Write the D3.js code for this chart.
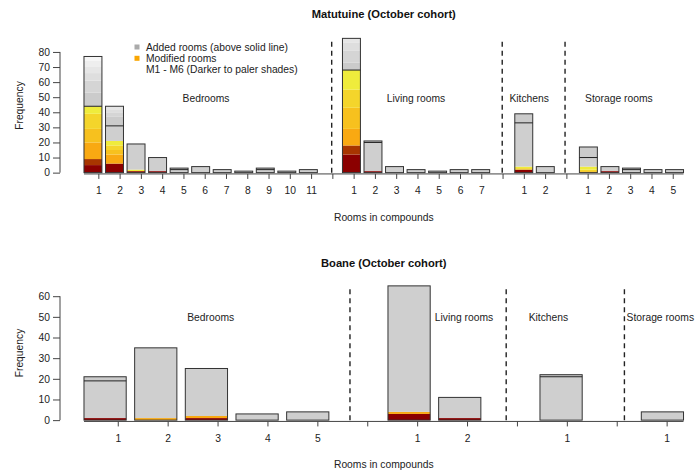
<!DOCTYPE html>
<html>
<head>
<meta charset="utf-8">
<script src="https://cdnjs.cloudflare.com/ajax/libs/d3/7.8.5/d3.min.js"></script>
<style>
  body { margin: 0; background: #fff; }
  svg { display: block; font-family: "Liberation Sans", Arial, sans-serif; }
</style>
</head>
<body>
<svg id="chart" width="697" height="471"></svg>
<script>
// ---- data ----
const roomTypes = ["Bedrooms", "Living rooms", "Kitchens", "Storage rooms"];

// Matutuine (October cohort)
const matRoomLabels = [
  ["1", "2", "3", "4", "5", "6", "7", "8", "9", "10", "11"],
  ["1", "2", "3", "4", "5", "6", "7"],
  ["1", "2"],
  ["1", "2", "3", "4", "5"]
];
// existing rooms per bar (height of the solid line)
const matExisting = [44, 31, 19, 10, 2, 4, 2, 1, 2, 1, 2,
                     68, 20, 4, 2, 1, 2, 2,
                     33, 4,
                     10, 4, 2, 2, 2];
// modified rooms M1..M6 per bar (missing = 0)
const matModified = [[5, 4, 11, 9, 10, 5], [6, 0, 6, 3, 3, 3], [1, 0, 0, 0, 0, 1], [1], [], [], [], [], [], [], [],
                     [12, 6, 11, 14, 12, 13], [1], [], [], [], [], [],
                     [2, 0, 0, 0, 1, 1], [],
                     [0, 0, 0, 1, 1, 2], [1], [], [], []];
// added rooms (above solid line), darker to paler
const matAdded = [[9, 8, 5, 4, 4, 3], [6, 3, 2, 2], [], [], [1], [], [], [], [1], [], [],
                  [5, 8, 5, 3], [1], [], [], [], [], [],
                  [6], [],
                  [7], [], [1], [], []];
const matYTicks = [0, 10, 20, 30, 40, 50, 60, 70, 80];

// Boane (October cohort)
const booRoomLabels = [
  ["1", "2", "3", "4", "5"],
  ["1", "2"],
  ["1"],
  ["1"]
];
const booExisting = [19, 35, 25, 3, 4,
                     65, 11,
                     21,
                     4];
const booModified = [[1], [0, 0, 1], [1, 0, 1], [], [],
                     [3, 0, 1], [1],
                     [],
                     []];
const booAdded = [[2], [], [], [], [],
                  [], [],
                  [1],
                  []];
const booYTicks = [0, 10, 20, 30, 40, 50, 60];

const legendLabels = ["Added rooms (above solid line)", "Modified rooms", "M1 - M6 (Darker to paler shades)"];

// ---- styles ----
const modShades = ["#8b0000", "#a83500", "#f9a912", "#f7c11e", "#f4d52b", "#efec3c"];
const addShades = ["#cbcbcb", "#d5d5d5", "#dedede", "#e6e6e6", "#eeeeee", "#f6f6f6"];
const unmodFill = "#cfcfcf";
const legendColors = ["#aaaaaa", "#f9a602", null];
const fontSize = 10.3;

const svg = d3.select('#chart');

const plotLeft = 60, plotRight = 707.5;

function drawPanel(p) {
  let g = svg.append('g');

  // slot layout: one empty slot between room types
  let bars = [];
  let slot = 0, k = 0;
  p.labels.forEach((grp, gi) => {
    grp.forEach(lab => {
      bars.push({slot: slot, label: lab, mod: p.modified[k], existing: p.existing[k], added: p.added[k]});
      slot++; k++;
    });
    if (gi < p.labels.length - 1) slot++;
  });
  let nSlots = slot;

  bars.forEach(b => {
    let segs = [];
    let base = 0;
    for (let i = 0; i < 6; i++) {
      let v = b.mod[i] || 0;
      if (v > 0) segs.push({lo: base, hi: base + v, fill: modShades[i]});
      base += v;
    }
    if (b.existing > base) segs.push({lo: base, hi: b.existing, fill: unmodFill});
    base = b.existing;
    for (let i = 0; i < 6; i++) {
      let v = b.added[i] || 0;
      if (v > 0) segs.push({lo: base, hi: base + v, fill: addShades[i]});
      base += v;
    }
    b.segs = segs;
    b.total = base;
  });

  // R-style barplot extents (space 0.2, 4% padding)
  let xlo = 0.2, xhi = 1.2 * nSlots;
  let xpad = 0.04 * (xhi - xlo);
  let x = d3.scaleLinear().domain([xlo - xpad, xhi + xpad]).range([plotLeft, plotRight]);
  let ymax = d3.max(bars, b => b.total);
  let y = d3.scaleLinear().domain([-0.04 * ymax, 1.04 * ymax]).range([p.top + p.height, p.top]);
  let xt = d3.scaleLinear().domain([0, nSlots - 1]).range([x(1), x(p.tickEnd)]);

  // separators
  g.selectAll('.sep').data(p.separators).join('line')
    .attr('x1', d => x(d)).attr('x2', d => x(d))
    .attr('y1', y(0)).attr('y2', y(ymax))
    .attr('stroke', '#222').attr('stroke-width', 1.4)
    .attr('stroke-dasharray', '5,4');

  // bars
  let bg = g.selectAll('.bar').data(bars).join('g').attr('class', 'bar');
  bg.selectAll('rect.seg').data(b => b.segs.map(s => Object.assign({slot: b.slot}, s))).join('rect')
    .attr('class', 'seg')
    .attr('x', d => x(0.2 + 1.2 * d.slot))
    .attr('width', d => x(1.2 + 1.2 * d.slot) - x(0.2 + 1.2 * d.slot))
    .attr('y', d => y(d.hi))
    .attr('height', d => y(d.lo) - y(d.hi))
    .attr('fill', d => d.fill);
  bg.append('rect')
    .attr('x', b => x(0.2 + 1.2 * b.slot))
    .attr('width', b => x(1.2 + 1.2 * b.slot) - x(0.2 + 1.2 * b.slot))
    .attr('y', b => y(b.total))
    .attr('height', b => y(0) - y(b.total))
    .attr('fill', 'none')
    .attr('stroke', '#333').attr('stroke-width', 1);
  bg.filter(b => b.total > b.existing).append('line')
    .attr('x1', b => x(0.2 + 1.2 * b.slot))
    .attr('x2', b => x(1.2 + 1.2 * b.slot))
    .attr('y1', b => y(b.existing)).attr('y2', b => y(b.existing))
    .attr('stroke', '#222').attr('stroke-width', 1);

  // y axis
  let yTop = d3.max(p.yTicks);
  let ya = g.append('g')
    .attr('transform', `translate(${plotLeft},0)`)
    .call(d3.axisLeft(y).tickValues(p.yTicks).tickSize(7).tickPadding(3));
  ya.select('.domain').remove();
  ya.append('line').attr('y1', y(0)).attr('y2', y(yTop)).attr('stroke', '#444');
  ya.selectAll('.tick line').attr('stroke', '#444');
  ya.selectAll('text').attr('font-size', fontSize).attr('fill', '#222').attr('font-family', null);

  // x axis
  let labelBySlot = {};
  bars.forEach(b => { labelBySlot[b.slot] = b.label; });
  let axisY = y(0) + 1.3;
  let xa = g.append('g')
    .attr('transform', `translate(0,${axisY})`)
    .call(d3.axisBottom(xt).tickValues(d3.range(nSlots)).tickSize(5).tickPadding(8)
      .tickFormat(s => labelBySlot[s] || ''));
  xa.select('.domain').remove();
  xa.append('line').attr('x1', x(xlo)).attr('x2', x(xhi)).attr('stroke', '#444');
  xa.selectAll('.tick line').attr('stroke', '#444');
  xa.selectAll('text').attr('font-size', fontSize).attr('fill', '#222').attr('font-family', null);

  // room type labels
  g.selectAll('.grp').data(roomTypes).join('text')
    .attr('x', (d, i) => x(p.groupLabelX[i]))
    .attr('y', y(p.groupLabelY))
    .attr('dy', '0.35em')
    .attr('text-anchor', 'middle')
    .attr('font-size', fontSize).attr('fill', '#222')
    .text(d => d);

  // titles
  let cx = (plotLeft + plotRight) / 2;
  g.append('text')
    .attr('x', cx).attr('y', p.titleY).attr('dy', '0.35em')
    .attr('text-anchor', 'middle').attr('font-weight', 'bold')
    .attr('font-size', 11.2).attr('fill', '#111')
    .text(p.title);
  g.append('text')
    .attr('x', cx).attr('y', p.top + p.height + 39).attr('dy', '0.35em')
    .attr('text-anchor', 'middle')
    .attr('font-size', fontSize).attr('fill', '#222')
    .text('Rooms in compounds');
  g.append('text')
    .attr('transform', `translate(19,${p.top + p.height / 2}) rotate(-90)`)
    .attr('dy', '0.35em')
    .attr('text-anchor', 'middle')
    .attr('font-size', fontSize).attr('fill', '#222')
    .text('Frequency');

  if (p.legend) {
    let lg = g.append('g').attr('transform', `translate(${plotLeft + 77},${p.top + 14})`);
    let items = lg.selectAll('g').data(legendLabels).join('g')
      .attr('transform', (d, i) => `translate(0,${i * 11.3})`);
    items.filter((d, i) => legendColors[i]).append('rect')
      .attr('x', -2.5).attr('y', -2.5).attr('width', 5).attr('height', 5)
      .attr('fill', (d, i) => legendColors[legendLabels.indexOf(d)]);
    items.append('text')
      .attr('x', 9).attr('dy', '0.35em')
      .attr('font-size', fontSize).attr('fill', '#222')
      .text(d => d);
  }
}

drawPanel({
  title: 'Matutuine (October cohort)', titleY: 14,
  top: 33, height: 145,
  labels: matRoomLabels, existing: matExisting, modified: matModified, added: matAdded,
  yTicks: matYTicks, tickEnd: 33, separators: [14, 23.5, 27],
  groupLabelX: [7, 18.7, 25, 30], groupLabelY: 49,
  legend: true
});

drawPanel({
  title: 'Boane (October cohort)', titleY: 263,
  top: 280.5, height: 145,
  labels: booRoomLabels, existing: booExisting, modified: booModified, added: booAdded,
  yTicks: booYTicks, tickEnd: 14, separators: [6.5, 10.2, 13],
  groupLabelX: [3.2, 9.2, 11.2, 13.85], groupLabelY: 49.5,
  legend: false
});
</script>
</body>
</html>
